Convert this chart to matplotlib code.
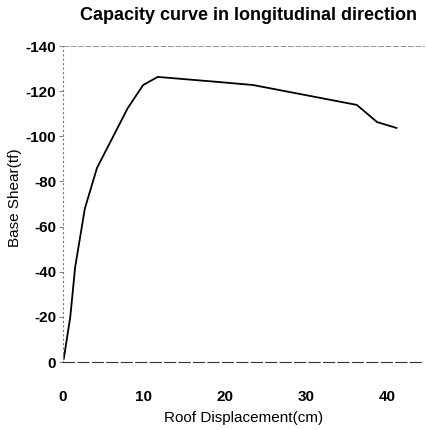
import numpy as np
import matplotlib
matplotlib.use('Agg')
import matplotlib.pyplot as plt

plt.rcParams['font.family'] = ['Liberation Sans', 'DejaVu Sans']

# capacity curve (cm, tf)
roof_disp = [0.1, 0.9, 1.5, 2.7, 4.2, 8.0, 9.9, 11.7, 19.4, 23.5, 36.3, 38.8, 41.2]
base_shear = [-1.5, -20, -42, -68, -86, -112.5, -122.7, -126.3, -124, -122.7, -113.9, -106.3, -103.7]

x_ticks = [0, 10, 20, 30, 40]
y_ticks = [0, -20, -40, -60, -80, -100, -120, -140]

fig = plt.figure(figsize=(4.26, 4.30), dpi=100)
ax = fig.add_axes([63/426, 68/430, 361/426, 316/430])

ax.plot(roof_disp, base_shear, color='black', lw=1.3)

ax.set_xlim(0, 44.6)
ax.set_ylim(0, -140)
ax.set_xticks(x_ticks)
ax.set_yticks(y_ticks)
ax.set_xticklabels([str(t) for t in x_ticks], fontsize=11, fontweight='bold')
ax.set_yticklabels([str(t) for t in y_ticks], fontsize=11, fontweight='bold')
ax.tick_params(axis='x', length=0, pad=20)
ax.tick_params(axis='y', length=3, width=0.6, color='#666666', pad=2)

# scanned look: broken frame lines
ax.spines['right'].set_visible(False)
ax.spines['top'].set_linestyle((0, (6, 3)))
ax.spines['top'].set_color('#888888')
ax.spines['top'].set_linewidth(0.6)
ax.spines['left'].set_linestyle((0, (1, 3)))
ax.spines['left'].set_color('#777777')
ax.spines['left'].set_linewidth(0.8)
ax.spines['bottom'].set_linestyle((0, (10, 3)))
ax.spines['bottom'].set_color('#333333')
ax.spines['bottom'].set_linewidth(0.8)

ax.set_xlabel('Roof Displacement(cm)', fontsize=11, labelpad=5)
ax.set_ylabel('Base Shear(tf)', fontsize=11)
ax.yaxis.set_label_coords(-41/361, 0.52)
fig.text(249/426, 1 - 15/430, 'Capacity curve in longitudinal direction',
         ha='center', va='center', fontsize=13, fontweight='bold')

fig.savefig('out.png', dpi=100)
